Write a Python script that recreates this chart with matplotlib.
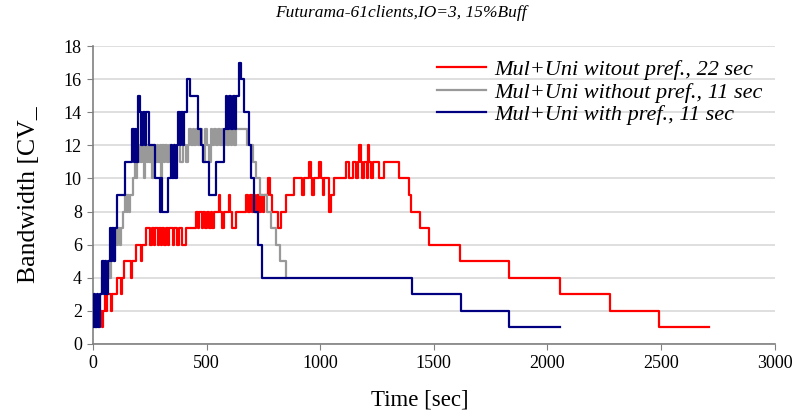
import matplotlib
matplotlib.use("Agg")
import matplotlib.pyplot as plt

# Change points (time in sec, bandwidth) for each run; values hold until the next time.
red_t = [31, 40, 46, 51, 57, 61, 78, 82, 108, 122, 127, 139, 166, 170, 190, 210, 214, 234,
         250, 258, 268, 275, 285, 290, 298, 305, 315, 320, 330, 336, 352, 358, 368, 380, 390, 411,
         455, 462, 468, 478, 485, 492, 500, 510, 518, 526, 535, 555, 560, 570, 578, 598, 603, 612,
         631, 673, 681, 690, 698, 705, 712, 720, 733, 740, 748, 755, 770, 780, 786, 814, 828, 850,
         886, 920, 930, 952, 958, 966, 972, 996, 1003, 1012, 1018, 1040, 1046, 1060, 1084, 1114,
         1128, 1143, 1158, 1165, 1172, 1178, 1183, 1194, 1205, 1212, 1216, 1223, 1231, 1260, 1282,
         1348, 1392, 1400, 1440, 1480, 1616, 1831, 2055, 2274, 2492, 2713]
red_v = [2, 1, 2, 3, 2, 3, 2, 3, 4, 3, 4, 5, 4, 5, 6, 5, 6, 7,
         6, 7, 6, 7, 6, 7, 6, 7, 6, 7, 6, 7, 6, 7, 6, 7, 6, 7,
         8, 7, 8, 7, 8, 7, 8, 7, 8, 7, 8, 9, 8, 7, 8, 9, 8, 7,
         8, 9, 8, 9, 8, 9, 8, 9, 8, 9, 8, 9, 10, 9, 8, 7, 8, 9,
         10, 9, 10, 11, 10, 9, 10, 11, 10, 9, 10, 8, 9, 10, 10, 11,
         10, 11, 10, 11, 12, 11, 10, 11, 10, 12, 11, 10, 11, 10, 11,
         10, 9, 8, 7, 6, 5, 4, 3, 2, 1, 1]

gray_t = [0, 20, 31, 40, 45, 50, 55, 60, 66, 72, 78, 84, 90, 96, 104, 110, 118, 124, 133, 140,
          148, 152, 160, 165, 177, 184, 190, 196, 206, 212, 218, 224, 230, 236, 242, 248, 256,
          262, 268, 274, 280, 288, 294, 300, 306, 312, 318, 324, 334, 345, 352, 360, 368, 382,
          395, 411, 418, 425, 432, 440, 447, 455, 462, 470, 478, 486, 494, 502, 510, 518, 526,
          534, 542, 550, 558, 566, 574, 582, 590, 598, 606, 614, 622, 630, 645, 680, 704, 718,
          735, 765, 784, 806, 824, 850]
gray_v = [1, 2, 3, 4, 3, 4, 5, 4, 5, 4, 5, 6, 5, 7, 6, 7, 6, 7, 8, 9,
          8, 9, 8, 9, 10, 11, 10, 11, 12, 11, 12, 10, 12, 11, 12, 11, 12,
          10, 12, 11, 12, 11, 12, 10, 12, 11, 12, 11, 12, 11, 12, 11, 12, 11,
          12, 11, 12, 13, 12, 13, 12, 13, 12, 13, 12, 11, 13, 12, 11, 13, 12,
          13, 12, 13, 12, 13, 12, 13, 12, 13, 12, 13, 12, 13, 13, 12, 11, 10,
          9, 8, 7, 6, 5, 4]

blue_t = [0, 5, 11, 17, 23, 29, 41, 47, 53, 59, 65, 75, 80, 86, 91, 97, 105, 140, 173, 179,
          185, 190, 198, 206, 213, 219, 228, 233, 245, 272, 294, 300, 303, 331, 343, 350, 356,
          362, 368, 375, 383, 388, 395, 400, 412, 428, 462, 477, 484, 513, 543, 579, 586, 592,
          600, 608, 616, 624, 630, 642, 650, 663, 686, 697, 711, 726, 745, 1403, 1622, 1831, 2057]
blue_v = [1, 3, 1, 3, 1, 3, 5, 3, 5, 3, 5, 7, 5, 7, 5, 7, 9, 11, 13, 11,
          13, 11, 15, 14, 12, 14, 12, 14, 12, 10, 8, 10, 8, 10, 12, 10, 12,
          10, 12, 14, 12, 14, 12, 14, 16, 15, 13, 12, 11, 9, 11, 13, 15, 13,
          15, 13, 15, 13, 15, 17, 16, 14, 12, 10, 8, 6, 4, 3, 2, 1, 1]

series_labels = ["Mul+Uni witout pref., 22 sec",
                 "Mul+Uni without pref., 11 sec",
                 "Mul+Uni with pref., 11 sec"]
x_ticks = [0, 500, 1000, 1500, 2000, 2500, 3000]
y_ticks = list(range(0, 19, 2))

plt.rcParams["font.family"] = ["Liberation Serif", "DejaVu Serif"]

fig = plt.figure(figsize=(8.01, 4.19), dpi=100)
ax = fig.add_axes([0.116, 0.179, 0.851, 0.711])

ax.step(red_t, red_v, where="post", color="#ff0000", lw=1.6, label=series_labels[0], zorder=3)
ax.step(gray_t, gray_v, where="post", color="#999999", lw=1.6, label=series_labels[1], zorder=4)
ax.step(blue_t, blue_v, where="post", color="#000080", lw=1.6, label=series_labels[2], zorder=5)

ax.set_xlim(0, 3000)
ax.set_ylim(0, 18)
ax.set_xticks(x_ticks)
ax.set_yticks(y_ticks)
ax.tick_params(axis="both", labelsize=13, direction="out", length=4, color="#808080", pad=4)
ax.yaxis.grid(True, color="#d9d9d9", lw=1.2, zorder=0)
ax.set_axisbelow(True)
for side in ("top", "right"):
    ax.spines[side].set_visible(False)
for side in ("left", "bottom"):
    ax.spines[side].set_color("#808080")
    ax.spines[side].set_linewidth(1.2)

ax.set_xlabel("Time [sec]", fontsize=16.5)
ax.xaxis.set_label_coords(0.48, -0.152)
ax.set_ylabel("Bandwidth [CV_", fontsize=18.5)
ax.yaxis.set_label_coords(-0.078, 0.5)
fig.suptitle("Futurama-61clients,IO=3, 15%Buff", fontsize=12.5, style="italic",
             x=0.5, y=0.988, va="top")

leg = ax.legend(loc="upper right", bbox_to_anchor=(0.995, 0.985), frameon=False,
                fontsize=16, handlelength=2.2, handletextpad=0.35, labelspacing=0.09,
                borderaxespad=0)
for t in leg.get_texts():
    t.set_style("italic")

fig.savefig("out.png", dpi=100)
